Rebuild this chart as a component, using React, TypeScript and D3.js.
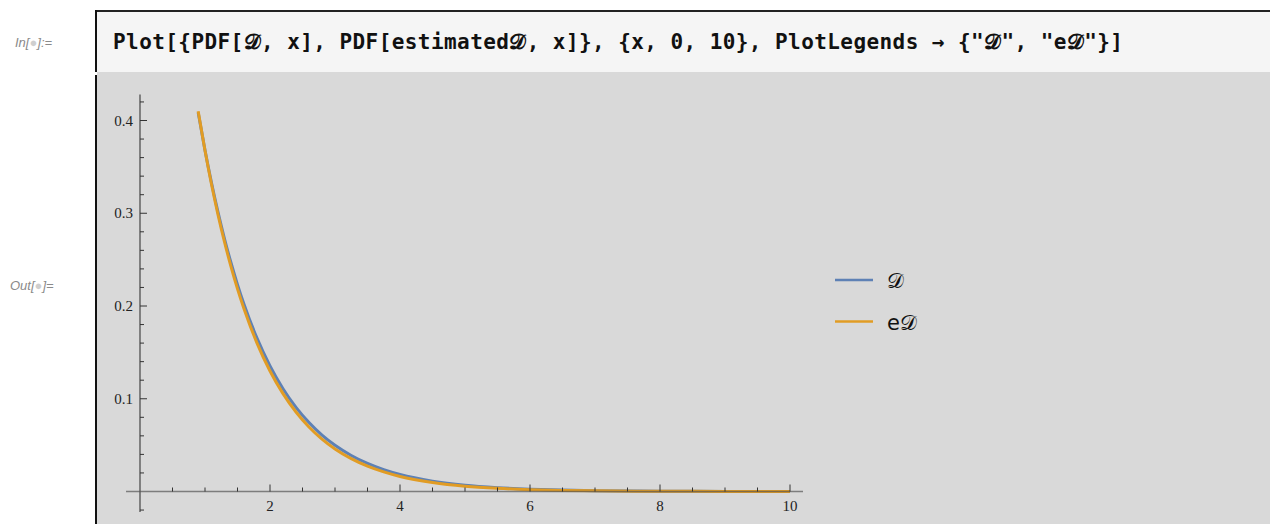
import React from "react";
import * as d3 from "d3";

// ---- data ----
const xValues = [0.895, 1.0, 1.1, 1.2, 1.3, 1.4, 1.5, 1.6, 1.8, 2.0, 2.2, 2.4, 2.6, 2.8, 3.0, 3.25, 3.5, 3.75, 4.0, 4.5, 5.0, 5.5, 6.0, 6.5, 7.0, 8.0, 9.0, 10.0];
const pdfD = [0.4086, 0.3679, 0.3329, 0.3012, 0.2725, 0.2466, 0.2231, 0.2019, 0.1653, 0.1353, 0.1108, 0.0907, 0.0743, 0.0608, 0.0498, 0.0388, 0.0302, 0.0235, 0.0183, 0.0111, 0.0067, 0.0041, 0.0025, 0.0015, 0.0009, 0.0003, 0.0001, 0.00005];
const pdfED = [0.4100, 0.3677, 0.3313, 0.2986, 0.2691, 0.2425, 0.2185, 0.1970, 0.1600, 0.1299, 0.1055, 0.0857, 0.0696, 0.0565, 0.0459, 0.0354, 0.0273, 0.0211, 0.0162, 0.0097, 0.0057, 0.0034, 0.0020, 0.0012, 0.0007, 0.00025, 0.00009, 0.00003];
const xTickValues = [2, 4, 6, 8, 10];
const xTickLabels = ["2", "4", "6", "8", "10"];
const yTickValues = [0.1, 0.2, 0.3, 0.4];
const yTickLabels = ["0.1", "0.2", "0.3", "0.4"];
const seriesNames = ["𝒟", "e𝒟"];
const seriesColors = ["#5E81B5", "#E19C24"];
const inputCode = "Plot[{PDF[𝒟, x], PDF[estimated𝒟, x]}, {x, 0, 10}, PlotLegends → {\"𝒟\", \"e𝒟\"}]";

export default function App() {
  const W = 1270, H = 524;
  const x = d3.scaleLinear().domain([0, 10]).range([140, 790]);
  const y = d3.scaleLinear().domain([0, 0.4]).range([491.5, 120.5]);
  const series = [pdfD, pdfED];
  const line = (vals: number[]) =>
    d3.line<number>().x((_, i) => x(xValues[i])).y((v) => y(v)).curve(d3.curveMonotoneX)(vals) || "";
  const xMinor = d3.range(0.5, 10.01, 0.5).filter((v) => !xTickValues.some((t) => Math.abs(t - v) < 1e-6));
  const yMinor = d3.range(-0.02, 0.4201, 0.02).filter((v) => Math.abs(v) > 1e-6 && !yTickValues.some((t) => Math.abs(t - v) < 1e-6));
  const axisColor = "#555";
  const tickColor = "#333";
  const serif = "'Liberation Serif', 'Times New Roman', serif";
  const x0 = x(0), yy0 = y(0);

  return (
    <svg width={W} height={H} viewBox={`0 0 ${W} ${H}`} style={{ position: "absolute", left: 0, top: 0, display: "block" }}>
      <rect x={0} y={0} width={W} height={H} fill="#ffffff" />
      {/* input cell */}
      <rect x={96} y={10} width={W - 96} height={62} fill="#f5f5f5" />
      <line x1={96} x2={W} y1={11} y2={11} stroke="#222" strokeWidth={2} />
      <line x1={96} x2={96} y1={10} y2={72} stroke="#111" strokeWidth={2} />
      <text x={15} y={47} fontFamily="'Liberation Sans', Arial, sans-serif" fontStyle="italic" fontSize={13} fill="#8a8a8a">
        In[<tspan fill="#cfcfcf">●</tspan>]:=
      </text>
      <text x={113} y={49} fontFamily="'DejaVu Sans Mono', monospace" fontWeight="bold" fontSize={21} fill="#111" textLength={1010} lengthAdjust="spacing">
        {inputCode}
      </text>
      {/* output cell */}
      <rect x={97} y={72} width={W - 97} height={H - 72} fill="#d9d9d9" />
      <line x1={96} x2={96} y1={75} y2={H} stroke="#111" strokeWidth={2} />
      <text x={10} y={290} fontFamily="'Liberation Sans', Arial, sans-serif" fontStyle="italic" fontSize={13} fill="#8a8a8a">
        Out[<tspan fill="#cfcfcf">●</tspan>]=
      </text>

      {/* curves */}
      {series.map((s, i) => (
        <path key={i} d={line(s)} fill="none" stroke={seriesColors[i]} strokeWidth={3} strokeLinejoin="round" strokeLinecap="butt" />
      ))}

      {/* axes */}
      <line x1={x(-0.215)} x2={x(10.2)} y1={yy0} y2={yy0} stroke={axisColor} strokeWidth={1.6} strokeOpacity={0.7} />
      <line x1={x0} x2={x0} y1={y(0.428)} y2={y(-0.022)} stroke={axisColor} strokeWidth={1.6} strokeOpacity={0.85} />
      {xTickValues.map((v) => (
        <line key={"xt" + v} x1={x(v)} x2={x(v)} y1={yy0} y2={yy0 - 7} stroke={tickColor} strokeWidth={1} />
      ))}
      {xMinor.map((v) => (
        <line key={"xm" + v} x1={x(v)} x2={x(v)} y1={yy0} y2={yy0 - 4} stroke={tickColor} strokeWidth={1} />
      ))}
      {yTickValues.map((v) => (
        <line key={"yt" + v} x1={x0} x2={x0 + 7} y1={y(v)} y2={y(v)} stroke={tickColor} strokeWidth={1} />
      ))}
      {yMinor.map((v) => (
        <line key={"ym" + v} x1={x0} x2={x0 + 4} y1={y(v)} y2={y(v)} stroke={tickColor} strokeWidth={1} />
      ))}
      {xTickValues.map((v, i) => (
        <text key={"xl" + v} x={x(v)} y={511} textAnchor="middle" fontFamily={serif} fontSize={15} fill="#222">
          {xTickLabels[i]}
        </text>
      ))}
      {yTickValues.map((v, i) => (
        <text key={"yl" + v} x={133} y={y(v) + 5} textAnchor="end" fontFamily={serif} fontSize={15} fill="#222">
          {yTickLabels[i]}
        </text>
      ))}

      {/* legend */}
      {seriesNames.map((n, i) => (
        <g key={"lg" + i}>
          <line x1={835} x2={873} y1={280 + i * 41.5} y2={280 + i * 41.5} stroke={seriesColors[i]} strokeWidth={2.5} />
          <text x={887} y={288 + i * 41.5} fontFamily="'DejaVu Sans', 'Liberation Sans', sans-serif" fontSize={21} fill="#111">
            {n}
          </text>
        </g>
      ))}
    </svg>
  );
}
